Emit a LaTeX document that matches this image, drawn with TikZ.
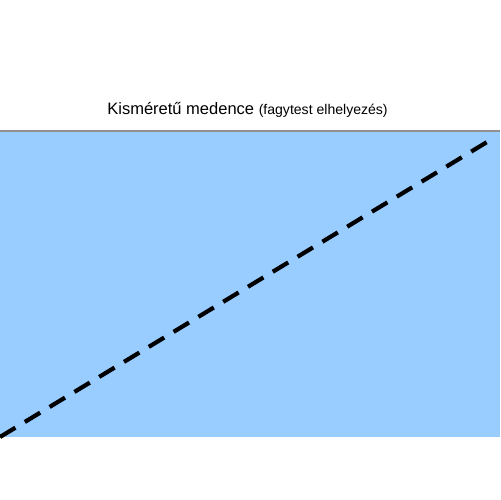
\documentclass[tikz,border=0pt]{standalone}
\usepackage{fontspec}
\setmainfont{Liberation Sans}
\definecolor{pool}{HTML}{99CCFF}
\definecolor{rim}{HTML}{909090}
\begin{document}
\begin{tikzpicture}[x=0.02cm,y=-0.02cm,
  pooldiv/.style={line width=2.4pt,dash pattern=on 0.36cm off 0.22cm},
  titletext/.style={anchor=base,inner sep=0pt}]
\useasboundingbox (0,0) rectangle (500,500);
\fill[pool] (0,131) rectangle (500,437);
\draw[rim,line width=1.2pt] (0,131) -- (500,131);
\coordinate (a) at (0,437);
\coordinate (b) at (492,139);
\draw[pooldiv] (a) -- (b);
\node[titletext] (t) at (247.5,114) {\fontsize{9.4pt}{12pt}\selectfont Kisméretű medence \fontsize{8pt}{10pt}\selectfont(fagytest elhelyezés)};
\end{tikzpicture}
\end{document}
